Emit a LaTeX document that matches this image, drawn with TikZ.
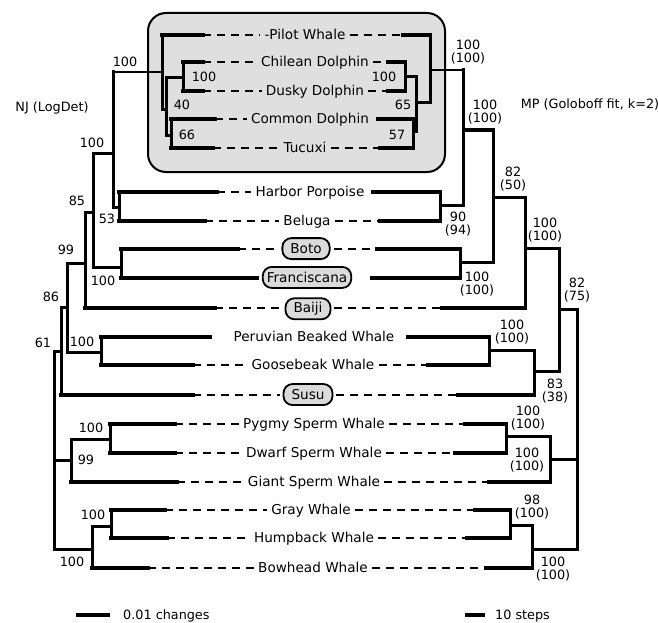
\documentclass[tikz,border=0pt]{standalone}
\usepackage{fontspec}
\setmainfont{DejaVu Sans}
\usetikzlibrary{positioning}

\begin{document}
\begin{tikzpicture}[x=1pt, y=-1pt, line cap=rect,
    font=\fontsize{12.8}{13.5}\selectfont,
    taxon/.style={font=\fontsize{13.6}{16}\selectfont, inner sep=1pt, anchor=base, yshift=-4.5pt},
    pill/.style={taxon, draw, line width=1.8pt, fill=gray!28, rounded corners=9pt, minimum height=21pt, inner xsep=8pt},
    supp/.style={align=center, inner sep=0pt},
    leaf/.style={line width=3.4pt},
    stem/.style={line width=3pt},
    link/.style={line width=1.5pt},
    dsh/.style={line width=1.6pt, line cap=butt, dash pattern=on 8pt off 6pt}
]
    \useasboundingbox (0,0) rectangle (658,623);
    % shaded dolphin clade
    \draw[line width=2pt, fill=gray!25, rounded corners=18pt] (148,13) rectangle (445,172);

    % taxa
    \node[taxon] (pilot)   at (305,35)  {-Pilot Whale};
    \node[taxon] (chilean) at (315,62)  {Chilean Dolphin};
    \node[taxon] (dusky)   at (315,91)  {Dusky Dolphin};
    \node[taxon] (common)  at (310,119) {Common Dolphin};
    \node[taxon] (tucuxi)  at (305,148) {Tucuxi};
    \node[taxon] (harbor)  at (310,192) {Harbor Porpoise};
    \node[taxon] (beluga)  at (307,221) {Beluga};
    \node[pill]  (boto)    at (306,249) {Boto};
    \node[pill, inner xsep=4pt] (francis) at (307,278) {Franciscana};
    \node[pill]  (baiji)   at (308,308) {Baiji};
    \node[taxon] (peruv)   at (314,337) {Peruvian Beaked Whale};
    \node[taxon] (goose)   at (313,365) {Goosebeak Whale};
    \node[pill]  (susu)    at (308,395) {Susu};
    \node[taxon] (pygmy)   at (314,424) {Pygmy Sperm Whale};
    \node[taxon] (dwarf)   at (314,453) {Dwarf Sperm Whale};
    \node[taxon] (giant)   at (314,482) {Giant Sperm Whale};
    \node[taxon] (gray)    at (311,510) {Gray Whale};
    \node[taxon] (humpb)   at (314,538) {Humpback Whale};
    \node[taxon] (bowhd)   at (313,568) {Bowhead Whale};

    % branch ends, NJ side
    \coordinate (pilotL) at (203,35);   \coordinate (chileanL) at (203,62);
    \coordinate (duskyL) at (203,91);   \coordinate (commonL) at (215,119);
    \coordinate (tucuxiL) at (213,148); \coordinate (harborL) at (217,192);
    \coordinate (belugaL) at (205,221); \coordinate (botoL) at (238,249);
    \coordinate (francisL) at (257,278); \coordinate (baijiL) at (215,308);
    \coordinate (peruvL) at (210,337);  \coordinate (gooseL) at (193,365);
    \coordinate (susuL) at (193,395);   \coordinate (pygmyL) at (175,424);
    \coordinate (dwarfL) at (175,453);  \coordinate (giantL) at (177,482);
    \coordinate (grayL) at (165,510);   \coordinate (humpbL) at (167,538);
    \coordinate (bowhdL) at (148,568);
    % branch ends, MP side
    \coordinate (pilotR) at (403,35);   \coordinate (chileanR) at (388,62);
    \coordinate (duskyR) at (388,91);   \coordinate (commonR) at (378,119);
    \coordinate (tucuxiR) at (380,148); \coordinate (harborR) at (373,192);
    \coordinate (belugaR) at (380,221); \coordinate (botoR) at (377,249);
    \coordinate (francisR) at (372,278); \coordinate (baijiR) at (442,308);
    \coordinate (peruvR) at (408,337);  \coordinate (gooseR) at (428,365);
    \coordinate (susuR) at (458,395);   \coordinate (pygmyR) at (465,424);
    \coordinate (dwarfR) at (455,453);  \coordinate (giantR) at (489,482);
    \coordinate (grayR) at (475,510);   \coordinate (humpbR) at (467,538);
    \coordinate (bowhdR) at (486,568);

    % dashes between branches and names
    \foreach \t in {pilot,chilean,dusky,common,tucuxi,harbor,beluga,boto,baiji,goose,susu,pygmy,dwarf,giant,gray,humpb,bowhd}
        \draw[dsh] (\t L) -- ([xshift=-3pt]\t.west |- \t L);
    \foreach \t in {pilot,chilean,dusky,tucuxi,beluga,boto,baiji,goose,susu,pygmy,dwarf,giant,gray,humpb,bowhd}
        \draw[dsh] ([xshift=3pt]\t.east |- \t R) -- (\t R);

    % NJ tree
    \coordinate (Lcd) at (183,78);  \coordinate (Lct) at (171,135);
    \coordinate (Ldel) at (166,110); \coordinate (Lpw) at (162,72);
    \coordinate (Lhb) at (119,207); \coordinate (Lodo) at (113,153);
    \coordinate (Lbf) at (121,267); \coordinate (Lx) at (93,212);
    \coordinate (Ly) at (85,263);   \coordinate (Lpg) at (101,352);
    \coordinate (Lz) at (67,307);   \coordinate (Lw) at (61,351);
    \coordinate (Lpd) at (110,439); \coordinate (Lsp) at (71,460);
    \coordinate (Lgh) at (111,526); \coordinate (Lbl) at (92,549);
    \coordinate (Lroot) at (54,450);

    \draw[stem] (Lcd |- chileanL) -- (Lcd |- duskyL);
    \draw[leaf] (Lcd |- chileanL) -- (chileanL);
    \draw[leaf] (Lcd |- duskyL) -- (duskyL);
    \draw[stem] (Lct |- commonL) -- (Lct |- tucuxiL);
    \draw[leaf] (Lct |- commonL) -- (commonL);
    \draw[leaf] (Lct |- tucuxiL) -- (tucuxiL);
    \draw[stem] (Ldel |- Lcd) -- (Ldel |- Lct);
    \draw[stem] (Ldel |- Lcd) -- (Lcd);
    \draw[stem] (Ldel |- Lct) -- (Lct);
    \draw[stem] (Lpw |- pilotL) -- (Lpw |- Ldel);
    \draw[leaf] (Lpw |- pilotL) -- (pilotL);
    \draw[stem] (Lpw |- Ldel) -- (Ldel);
    \draw[stem] (Lhb |- harborL) -- (Lhb |- belugaL);
    \draw[leaf] (Lhb |- harborL) -- (harborL);
    \draw[leaf] (Lhb |- belugaL) -- (belugaL);
    \draw[stem] (Lodo |- Lpw) -- (Lodo |- Lhb);
    \draw[link] (Lodo |- Lpw) -- (Lpw);
    \draw[stem] (Lodo |- Lhb) -- (Lhb);
    \draw[stem] (Lbf |- botoL) -- (Lbf |- francisL);
    \draw[leaf] (Lbf |- botoL) -- (botoL);
    \draw[leaf] (Lbf |- francisL) -- (francisL);
    \draw[stem] (Lx |- Lodo) -- (Lx |- Lbf);
    \draw[stem] (Lx |- Lodo) -- (Lodo);
    \draw[stem] (Lx |- Lbf) -- (Lbf);
    \draw[stem] (Ly |- Lx) -- (Ly |- baijiL);
    \draw[stem] (Ly |- Lx) -- (Lx);
    \draw[leaf] (Ly |- baijiL) -- (baijiL);
    \draw[stem] (Lpg |- peruvL) -- (Lpg |- gooseL);
    \draw[leaf] (Lpg |- peruvL) -- (peruvL);
    \draw[leaf] (Lpg |- gooseL) -- (gooseL);
    \draw[stem] (Lz |- Ly) -- (Lz |- Lpg);
    \draw[stem] (Lz |- Ly) -- (Ly);
    \draw[stem] (Lz |- Lpg) -- (Lpg);
    \draw[stem] (Lw |- Lz) -- (Lw |- susuL);
    \draw[stem] (Lw |- Lz) -- (Lz);
    \draw[leaf] (Lw |- susuL) -- (susuL);
    \draw[stem] (Lpd |- pygmyL) -- (Lpd |- dwarfL);
    \draw[leaf] (Lpd |- pygmyL) -- (pygmyL);
    \draw[leaf] (Lpd |- dwarfL) -- (dwarfL);
    \draw[stem] (Lsp |- Lpd) -- (Lsp |- giantL);
    \draw[stem] (Lsp |- Lpd) -- (Lpd);
    \draw[leaf] (Lsp |- giantL) -- (giantL);
    \draw[stem] (Lgh |- grayL) -- (Lgh |- humpbL);
    \draw[leaf] (Lgh |- grayL) -- (grayL);
    \draw[leaf] (Lgh |- humpbL) -- (humpbL);
    \draw[stem] (Lbl |- Lgh) -- (Lbl |- bowhdL);
    \draw[stem] (Lbl |- Lgh) -- (Lgh);
    \draw[leaf] (Lbl |- bowhdL) -- (bowhdL);
    \draw[stem] (Lroot |- Lw) -- (Lroot |- Lbl);
    \draw[stem] (Lroot |- Lw) -- (Lw);
    \draw[stem] (Lroot |- Lsp) -- (Lsp);
    \draw[stem] (Lroot |- Lbl) -- (Lbl);

    % MP tree
    \coordinate (Rcd) at (405,77);  \coordinate (Rct) at (413,131);
    \coordinate (Rdel) at (416,103); \coordinate (Rpw) at (430,70);
    \coordinate (Rhb) at (440,205); \coordinate (Rodo) at (463,130);
    \coordinate (Rbf) at (460,262); \coordinate (Rx) at (493,197);
    \coordinate (Ry) at (525,248);  \coordinate (Rpg) at (489,350);
    \coordinate (Rps) at (534,371); \coordinate (Rz) at (559,309);
    \coordinate (Rpd) at (506,436); \coordinate (Rsp) at (550,459);
    \coordinate (Rgh) at (510,525); \coordinate (Rbl) at (532,549);
    \coordinate (Rroot) at (577,450);

    \draw[stem] (Rcd |- chileanR) -- (Rcd |- duskyR);
    \draw[leaf] (Rcd |- chileanR) -- (chileanR);
    \draw[leaf] (Rcd |- duskyR) -- (duskyR);
    \draw[stem] (Rct |- commonR) -- (Rct |- tucuxiR);
    \draw[leaf] (Rct |- commonR) -- (commonR);
    \draw[leaf] (Rct |- tucuxiR) -- (tucuxiR);
    \draw[stem] (Rdel |- Rcd) -- (Rdel |- Rct);
    \draw[stem] (Rdel |- Rcd) -- (Rcd);
    \draw[stem] (Rdel |- Rct) -- (Rct);
    \draw[stem] (Rpw |- pilotR) -- (Rpw |- Rdel);
    \draw[leaf] (Rpw |- pilotR) -- (pilotR);
    \draw[stem] (Rpw |- Rdel) -- (Rdel);
    \draw[stem] (Rhb |- harborR) -- (Rhb |- belugaR);
    \draw[leaf] (Rhb |- harborR) -- (harborR);
    \draw[leaf] (Rhb |- belugaR) -- (belugaR);
    \draw[stem] (Rodo |- Rpw) -- (Rodo |- Rhb);
    \draw[link] (Rodo |- Rpw) -- (Rpw);
    \draw[stem] (Rodo |- Rhb) -- (Rhb);
    \draw[stem] (Rbf |- botoR) -- (Rbf |- francisR);
    \draw[leaf] (Rbf |- botoR) -- (botoR);
    \draw[leaf] (Rbf |- francisR) -- (francisR);
    \draw[stem] (Rx |- Rodo) -- (Rx |- Rbf);
    \draw[stem] (Rx |- Rodo) -- (Rodo);
    \draw[stem] (Rx |- Rbf) -- (Rbf);
    \draw[stem] (Ry |- Rx) -- (Ry |- baijiR);
    \draw[stem] (Ry |- Rx) -- (Rx);
    \draw[leaf] (Ry |- baijiR) -- (baijiR);
    \draw[stem] (Rpg |- peruvR) -- (Rpg |- gooseR);
    \draw[leaf] (Rpg |- peruvR) -- (peruvR);
    \draw[leaf] (Rpg |- gooseR) -- (gooseR);
    \draw[stem] (Rps |- Rpg) -- (Rps |- susuR);
    \draw[stem] (Rps |- Rpg) -- (Rpg);
    \draw[leaf] (Rps |- susuR) -- (susuR);
    \draw[stem] (Rz |- Ry) -- (Rz |- Rps);
    \draw[stem] (Rz |- Ry) -- (Ry);
    \draw[stem] (Rz |- Rps) -- (Rps);
    \draw[stem] (Rpd |- pygmyR) -- (Rpd |- dwarfR);
    \draw[leaf] (Rpd |- pygmyR) -- (pygmyR);
    \draw[leaf] (Rpd |- dwarfR) -- (dwarfR);
    \draw[stem] (Rsp |- Rpd) -- (Rsp |- giantR);
    \draw[stem] (Rsp |- Rpd) -- (Rpd);
    \draw[leaf] (Rsp |- giantR) -- (giantR);
    \draw[stem] (Rgh |- grayR) -- (Rgh |- humpbR);
    \draw[leaf] (Rgh |- grayR) -- (grayR);
    \draw[leaf] (Rgh |- humpbR) -- (humpbR);
    \draw[stem] (Rbl |- Rgh) -- (Rbl |- bowhdR);
    \draw[stem] (Rbl |- Rgh) -- (Rgh);
    \draw[leaf] (Rbl |- bowhdR) -- (bowhdR);
    \draw[stem] (Rroot |- Rz) -- (Rroot |- Rbl);
    \draw[stem] (Rroot |- Rz) -- (Rz);
    \draw[stem] (Rroot |- Rsp) -- (Rsp);
    \draw[stem] (Rroot |- Rbl) -- (Rbl);

    % NJ support values
    \node[supp] (sLpw)  at (125,62)  {100};
    \node[supp] (sLcd)  at (204,77)  {100};
    \node[supp] (sLdel) at (182,105) {40};
    \node[supp] (sLct)  at (187,135) {66};
    \node[supp] (sLodo) at (92,143)  {100};
    \node[supp] (sLhb)  at (107,219) {53};
    \node[supp] (sLx)   at (77,201)  {85};
    \node[supp] (sLbf)  at (103,281) {100};
    \node[supp] (sLy)   at (66,250)  {99};
    \node[supp] (sLz)   at (51,297)  {86};
    \node[supp] (sLpg)  at (82,342)  {100};
    \node[supp] (sLw)   at (43,343)  {61};
    \node[supp] (sLpd)  at (91,428)  {100};
    \node[supp] (sLsp)  at (86,460)  {99};
    \node[supp] (sLgh)  at (93,515)  {100};
    \node[supp] (sLbl)  at (72,562)  {100};

    % MP support values
    \node[supp] (sRcd)  at (384,77)  {100};
    \node[supp] (sRdel) at (403,105) {65};
    \node[supp] (sRct)  at (397,135) {57};
    \node[supp] (sRpw)  at (468,52)  {100\\(100)};
    \node[supp] (sRodo) at (485,112) {100\\(100)};
    \node[supp] (sRhb)  at (458,224) {90\\(94)};
    \node[supp] (sRbf)  at (477,284) {100\\(100)};
    \node[supp] (sRx)   at (513,179) {82\\(50)};
    \node[supp] (sRy)   at (545,230) {100\\(100)};
    \node[supp] (sRz)   at (577,290) {82\\(75)};
    \node[supp] (sRpg)  at (512,332) {100\\(100)};
    \node[supp] (sRps)  at (555,391) {83\\(38)};
    \node[supp] (sRpd)  at (528,418) {100\\(100)};
    \node[supp] (sRsp)  at (527,460) {100\\(100)};
    \node[supp] (sRgh)  at (532,507) {98\\(100)};
    \node[supp] (sRbl)  at (553,569) {100\\(100)};

    % headings
    \node (nj) at (52,108) {NJ (LogDet)};
    \node (mp) at (590,104) {MP (Goloboff fit, k=2)};

    % scale bars
    \coordinate (bar1a) at (78,615);  \coordinate (bar1b) at (108,615);
    \coordinate (bar2a) at (467,615); \coordinate (bar2b) at (483,615);
    \draw[leaf] (bar1a) -- (bar1b);
    \draw[leaf] (bar2a) -- (bar2b);
    \node[anchor=base west, inner sep=0pt] (chg) at (123,619) {0.01 changes};
    \node[anchor=base west, inner sep=0pt] (stp) at (495,619) {10 steps};
\end{tikzpicture}
\end{document}
